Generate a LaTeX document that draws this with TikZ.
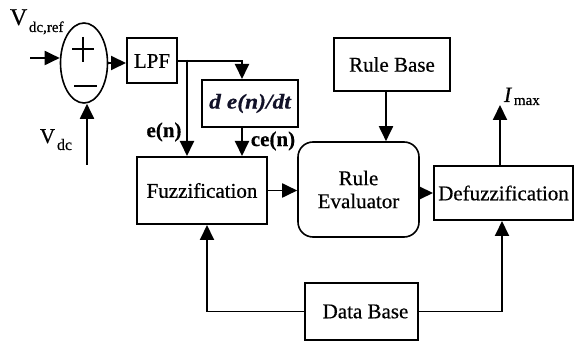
\documentclass[tikz,border=0pt]{standalone}
\usepackage{fontspec}
\setmainfont{Liberation Serif}[FakeBold=0.5]
\usetikzlibrary{shapes.geometric,arrows.meta}
\begin{document}
\begin{tikzpicture}[x=1pt,y=-1pt,
  line width=1.9pt,
  every node/.style={font=\fontsize{21}{23}\selectfont},
  blk/.style={draw,rectangle,inner sep=1pt,line width=2pt},
  arr/.style={-{Triangle[length=15pt,width=14pt]}},
  lbl/.style={inner sep=0pt,anchor=base west},
  lab/.style={font=\fontsize{21}{23}\selectfont\bfseries,inner sep=0pt}
]
\useasboundingbox (0,0) rectangle (575,344);

% summing junction
\node[draw,ellipse,minimum width=47pt,minimum height=80pt,inner sep=0pt,line width=1.6pt] (sum) at (84,63) {};
\draw[line width=2.4pt] (72,49) -- (94,49);
\draw[line width=2.4pt] (83,37) -- (83,62);
\draw[line width=2.4pt] (74,86) -- (97,86);

% blocks
\node[blk,minimum width=50pt,minimum height=45pt] (lpf) at (152,61) {LPF};
\node[blk,minimum width=96pt,minimum height=47pt] (der) at (250,103.5)
  {\color[rgb]{0.07,0.07,0.16}\bfseries\itshape\scalebox{1.12}[1]{d e(n)/dt}};
\node[blk,minimum width=130pt,minimum height=67pt] (fuz) at (202,190.5) {Fuzzification};
\node[blk,rounded corners=15pt,minimum width=121pt,minimum height=95pt,align=center,line width=1.6pt] (re) at (358.5,189.5) {Rule\\Evaluator};
\node[blk,minimum width=116pt,minimum height=53pt] (rb) at (392,64.5) {Rule Base};
\node[blk,minimum width=139pt,minimum height=54pt,inner sep=0pt] (dfz) at (503.5,193) {Defuzzification};
\node[blk,minimum width=113pt,minimum height=57pt] (db) at (361.5,311.5) {\hspace*{8pt}Data Base};

% coordinates
\coordinate (in) at (30,58);
\coordinate (vdcin) at (87,165);
\coordinate (br) at (187,60);
\coordinate (imax) at (500,105);

% labels
\node[lbl,font=\fontsize{24}{24}\selectfont] (vr) at (9,25) {V};
\node[lbl,font=\fontsize{15}{15}\selectfont] (vrs) at (28,32) {dc,ref};
\node[lbl] (vd) at (39,143) {V};
\node[lbl,font=\fontsize{16}{16}\selectfont] (vds) at (56,150) {dc};
\node[lbl,font=\fontsize{22}{22}\selectfont\itshape] (im) at (503,102) {I};
\node[lbl,font=\fontsize{15}{15}\selectfont] (ims) at (513,105) {max};
\node[lab] (en) at (164,132) {e(n)};
\node[lab] (cen) at (273,141) {ce(n)};

% connectors
\draw[arr] (in) -- (in -| sum.west);
\draw[arr] (vdcin) -- (vdcin |- sum.south);
\draw[arr] (sum.east) -- (sum.east -| lpf.west);
\draw[arr] (lpf.east) -| ([xshift=-8pt]der.north);
\draw[arr] (br) -- (br |- fuz.north);
\draw[arr] ([xshift=-8pt]der.south) -- ([xshift=-8pt]der.south |- fuz.north);
\draw[arr] (fuz.east) -- (fuz.east -| re.west);
\draw[arr] ([xshift=-6pt]rb.south) -- ([xshift=-6pt]rb.south |- re.north);
\draw[arr] (dfz.west -| re.east) -- (dfz.west);
\draw[arr] ([xshift=-3.5pt]dfz.north) -- ([xshift=-3.5pt]dfz.north |- imax);
\draw[arr] (db.west) -| ([xshift=5pt]fuz.south);
\draw[arr] (db.east) -| ([xshift=-1.5pt]dfz.south);
\end{tikzpicture}
\end{document}
